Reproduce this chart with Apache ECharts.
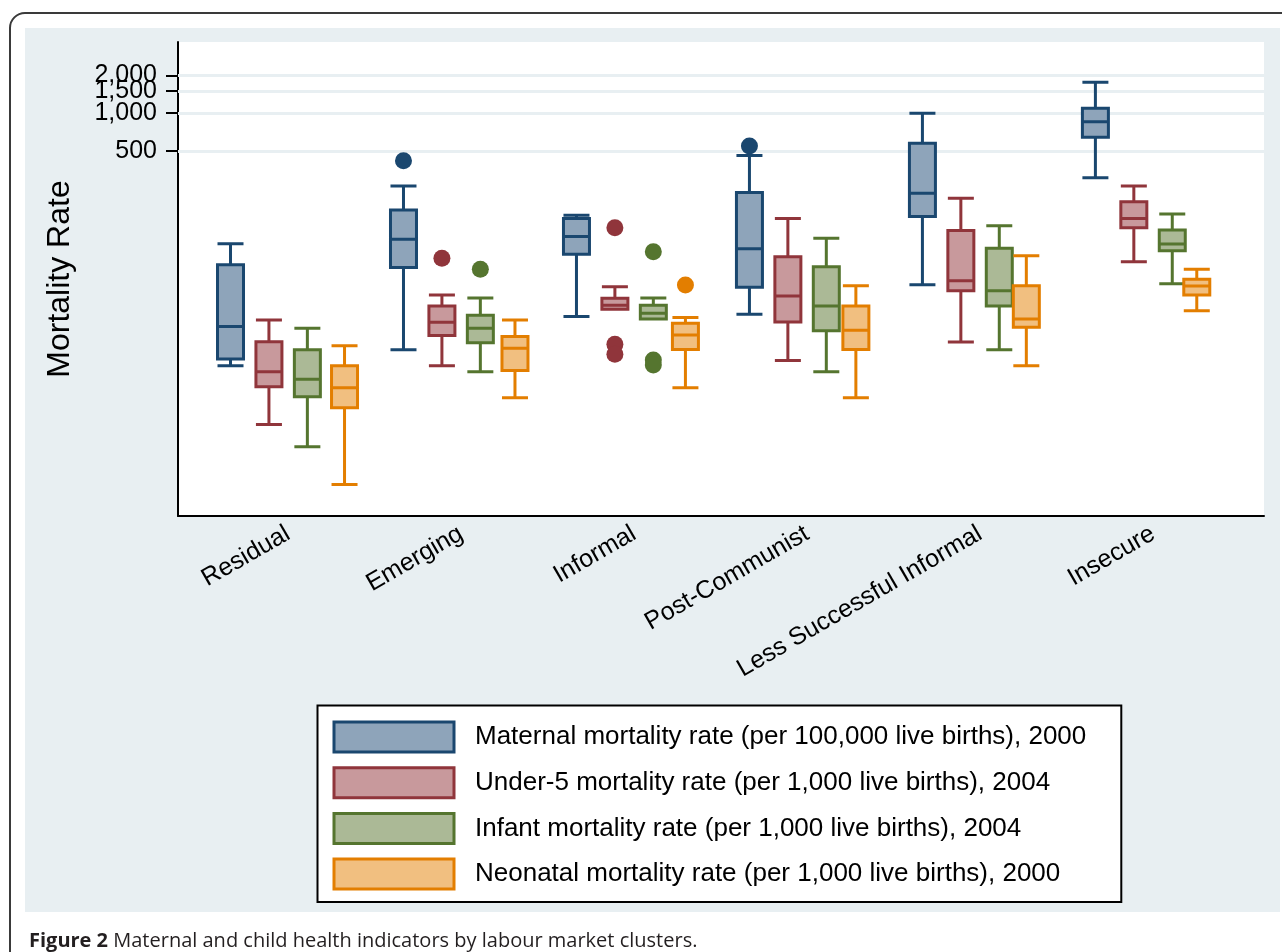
<!DOCTYPE html>
<html>
<head>
<meta charset="utf-8">
<title>Maternal and child health indicators by labour market clusters</title>
<script src="https://cdn.jsdelivr.net/npm/echarts@6/dist/echarts.min.js"></script>
<style>
  html, body { margin: 0; padding: 0; background: #fff; overflow: hidden; }
  #frame {
    position: absolute; left: 9px; top: 12px; width: 1300px; height: 1000px;
    border: 2px solid #3a3a3a; border-radius: 16px; box-sizing: border-box;
  }
  #panel { position: absolute; left: 25px; top: 28px; width: 1255px; height: 884px; background: #e8eff2; }
  #chart { position: absolute; left: 0; top: 0; width: 1282px; height: 952px; }
</style>
</head>
<body>
<div id="frame"></div>
<div id="panel"></div>
<div id="chart"></div>
<script>
// Labour market clusters (x categories)
const categories = ['Residual', 'Emerging', 'Informal', 'Post-Communist', 'Less Successful Informal', 'Insecure'];

const seriesNames = [
  'Maternal mortality rate (per 100,000 live births), 2000',
  'Under-5 mortality rate (per 1,000 live births), 2004',
  'Infant mortality rate (per 1,000 live births), 2004',
  'Neonatal mortality rate (per 1,000 live births), 2000'
];

// Box summaries per cluster: [lower whisker, Q1, median, Q3, upper whisker]
const maternal = [
  [9.7, 11, 20, 62, 91],
  [13, 59, 99, 169, 263],
  [24, 75, 104, 145, 154],
  [25, 41, 83, 233, 459],
  [43, 150, 230, 576, 1000],
  [306, 643, 855, 1094, 1763]
];
const underFive = [
  [3.3, 6.6, 8.7, 15.1, 22.5],
  [9.7, 16.9, 21.6, 29.1, 35.6],
  [27.4, 27.4, 29.5, 33.5, 41.4],
  [10.7, 21.7, 35.0, 71.9, 145],
  [15.0, 38.5, 46.3, 116, 210],
  [65.6, 122, 145, 197, 263]
];
const infant = [
  [2.2, 5.5, 7.6, 13.0, 19.3],
  [8.7, 14.8, 19.3, 24.5, 33.7],
  [22.9, 22.9, 25.4, 29.5, 33.7],
  [8.7, 18.5, 29.1, 59.8, 101],
  [13.0, 29.1, 38.5, 83.8, 127],
  [43.8, 80.3, 90.7, 117, 157]
];
const neonatal = [
  [1.1, 4.5, 6.5, 9.7, 14.0],
  [5.4, 8.9, 13.4, 16.6, 22.5],
  [6.5, 13.1, 17.1, 21.2, 23.5],
  [5.4, 13.1, 18.6, 29.1, 42.2],
  [9.7, 19.7, 22.9, 42.2, 73.2],
  [26.7, 35.6, 42.0, 47.5, 57.0]
];

// Outside values: [cluster index, value]
const maternalOutliers = [[1, 418], [3, 548]];
const underFiveOutliers = [[1, 69.8], [2, 122], [2, 14.4], [2, 12.0]];
const infantOutliers = [[1, 57], [2, 78.8], [2, 10.8], [2, 9.85]];
const neonatalOutliers = [[2, 42.8]];

// Labelled y ticks
const yTicks = [500, 1000, 1500, 2000];

// ---- styling / layout ----
const strokeColors = ['#1a476f', '#90353b', '#55752f', '#e37e00'];
const fillColors   = ['#8ea4ba', '#c8999c', '#abb996', '#f1bf80'];
const FONT = '"Liberation Sans", Arial, sans-serif';
const GRIDLINE = '#e8eff2';

const plot = { left: 178, top: 42, right: 1264, bottom: 516 };
const bandWidth = 172.98;      // width of one cluster slot
const boxStep = 38.43;         // spacing of boxes within a cluster
const firstCenter = 288.15;    // centre of the first cluster
const yMin = 0.617, yMax = 3690;

const boxes = [maternal, underFive, infant, neonatal];
const outliers = [maternalOutliers, underFiveOutliers, infantOutliers, neonatalOutliers];

const plotH = plot.bottom - plot.top;
const catWidth = bandWidth * categories.length;

function withCommas(v) {
  return String(v).replace(/\B(?=(\d{3})+(?!\d))/g, ',');
}

// Tick labels sit close together near the top of a log scale, so they are split
// over two coincident left axes; neither axis then drops a label for crowding.
const tickSetA = yTicks.filter((_, i) => i % 2 === 0);
const tickSetB = yTicks.filter((_, i) => i % 2 === 1);

function tickAxis(values, withLine) {
  return {
    type: 'log', gridIndex: 0, min: yMin, max: yMax, position: 'left', offset: 0,
    axisLine: { show: withLine, onZero: false, lineStyle: { color: '#000', width: 2 } },
    axisTick: { show: true, customValues: values, length: 12, lineStyle: { color: '#000', width: 2 } },
    axisLabel: { show: true, customValues: values, margin: 21, formatter: withCommas,
      showMinLabel: true, showMaxLabel: true, hideOverlap: false,
      fontFamily: FONT, fontSize: 25, color: '#000' },
    splitLine: { show: false }, minorTick: { show: false }
  };
}

const grids = [
  { left: plot.left, top: plot.top, width: plot.right - plot.left, height: plotH,
    show: true, backgroundColor: '#ffffff', borderWidth: 0 }
];
const xAxes = [
  { type: 'value', gridIndex: 0, min: 0, max: 1,
    axisLine: { show: true, onZero: false, lineStyle: { color: '#000', width: 2 } },
    axisTick: { show: false }, axisLabel: { show: false }, splitLine: { show: false } }
];
const yAxes = [
  Object.assign(tickAxis(tickSetA, true), {
    name: 'Mortality Rate', nameLocation: 'middle', nameGap: 102,
    nameTextStyle: { fontFamily: FONT, fontSize: 32, color: '#000' }
  }),
  tickAxis(tickSetB, false)
];

// one grid per indicator, shifted so each box sits at its slot within the cluster
const firstDataY = yAxes.length;
boxes.forEach((_, k) => {
  const center = firstCenter + (k - 1.5) * boxStep;
  grids.push({ left: center - bandWidth / 2, top: plot.top, width: catWidth, height: plotH });
  xAxes.push({ type: 'category', gridIndex: k + 1, data: categories, show: false, boundaryGap: true });
  yAxes.push({ type: 'log', gridIndex: k + 1, min: yMin, max: yMax, show: false });
});

// grid carrying the cluster labels
grids.push({ left: firstCenter - bandWidth / 2, top: plot.top, width: catWidth, height: plotH });
xAxes.push({ type: 'category', gridIndex: 5, data: categories, boundaryGap: true,
  axisLine: { show: false }, axisTick: { show: false },
  axisLabel: { rotate: 30, margin: 16, interval: 0, fontFamily: FONT, fontSize: 25, color: '#000' } });
yAxes.push({ type: 'log', gridIndex: 5, min: yMin, max: yMax, show: false });

const series = [
  // horizontal grid lines at the labelled ticks, kept behind the boxes
  { type: 'line', xAxisIndex: 0, yAxisIndex: 0, data: [], silent: true, z: 1,
    markLine: { symbol: 'none', silent: true, animation: false, z: 1, label: { show: false },
      lineStyle: { color: GRIDLINE, width: 3, type: 'solid' },
      emphasis: { disabled: true },
      data: yTicks.map(v => ({ yAxis: v })) } }
];

boxes.forEach((data, k) => {
  series.push({
    name: seriesNames[k], type: 'boxplot', xAxisIndex: k + 1, yAxisIndex: firstDataY + k,
    data: data, boxWidth: [26, 26], z: 3, silent: true,
    itemStyle: { color: fillColors[k], borderColor: strokeColors[k], borderWidth: 3 },
    emphasis: { disabled: true }
  });
  series.push({
    name: seriesNames[k], type: 'scatter', xAxisIndex: k + 1, yAxisIndex: firstDataY + k,
    data: outliers[k], symbol: 'circle', symbolSize: 17, z: 4, silent: true,
    itemStyle: { color: strokeColors[k], opacity: 1 },
    emphasis: { disabled: true }
  });
});

const option = {
  animation: false,
  backgroundColor: 'transparent',
  title: {
    text: '{b|Figure 2} Maternal and child health indicators by labour market clusters.',
    left: 24, top: 926,
    textStyle: {
      fontFamily: '"Open Sans", sans-serif', fontSize: 20, fontWeight: 'normal', color: '#231f20',
      rich: { b: { fontFamily: '"Open Sans", sans-serif', fontSize: 20, fontWeight: 'bold', color: '#231f20' } }
    }
  },
  legend: {
    orient: 'vertical', left: 317.5, top: 705.5,
    icon: 'rect', itemWidth: 120, itemHeight: 30, itemGap: 12.7,
    padding: [15, 35, 11.5, 15],
    backgroundColor: '#ffffff', borderColor: '#000', borderWidth: 2,
    selectedMode: false,
    textStyle: { fontFamily: FONT, fontSize: 26, color: '#000', padding: [0, 0, 0, 16] },
    data: seriesNames.map((n, k) => ({
      name: n, icon: 'rect',
      itemStyle: { color: fillColors[k], borderColor: strokeColors[k], borderWidth: 3 }
    }))
  },
  grid: grids,
  xAxis: xAxes,
  yAxis: yAxes,
  series: series
};

const chart = echarts.init(document.getElementById('chart'), null, { renderer: 'canvas' });
chart.setOption(option);
</script>
</body>
</html>
